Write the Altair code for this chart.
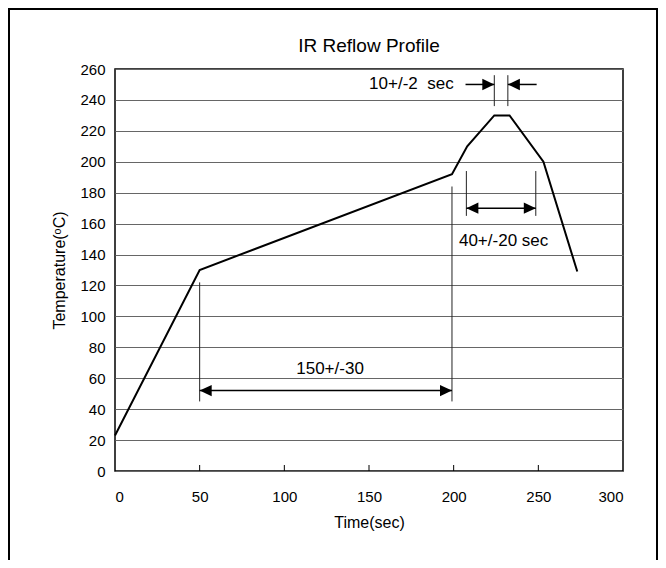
import altair as alt
import pandas as pd

# ---- data ----
time_s = [0, 50, 199, 208, 224, 233, 253, 273]
temp_c = [23, 130, 192, 210, 230, 230, 200, 129]

x_ticks = [0, 50, 100, 150, 200, 250, 300]
y_ticks = [0, 20, 40, 60, 80, 100, 120, 140, 160, 180, 200, 220, 240, 260]
inner_x_ticks = [50, 100, 150, 200, 250]

# dimension (extension) lines
dim_x = [50, 199, 207.5, 248.5, 224, 232]
dim_y1 = [45, 45, 165, 165, 236, 236]
dim_y2 = [122, 184, 194, 194, 256, 256]

# arrow shafts
shaft_x1 = [50, 207.5, 207, 232]
shaft_x2 = [199, 248.5, 224, 249]
shaft_y = [52, 170, 250, 250]

# arrow heads
head_x = [50, 199, 207.5, 248.5, 224, 232]
head_y = [52, 52, 170, 170, 250, 250]
head_dir = ["left", "right", "left", "right", "right", "left"]

# annotation labels
label_text = ["150+/-30", "40+/-20 sec", "10+/-2\u00a0 sec"]
label_x = [127, 229.5, 200]
label_y = [66, 149, 250]
label_align = ["center", "center", "right"]

TITLE = "IR Reflow Profile"
X_TITLE = "Time(sec)"
Y_TITLE = "Temperature(\u1d52C)"

W, H = 508, 402
FONT = "Liberation Sans"

xs = alt.Scale(domain=[0, 300], nice=False, zero=False)
ys = alt.Scale(domain=[0, 260], nice=False, zero=False)

X_AX = alt.Axis(values=x_ticks, grid=False, ticks=False, domain=False,
                labelPadding=18, titlePadding=10, format="d")
Y_AX = alt.Axis(values=y_ticks, grid=True, ticks=False, domain=False,
                labelPadding=10, titlePadding=12, format="d")


def X(field):
    return alt.X(field, scale=xs, axis=X_AX, title=X_TITLE)


def Y(field):
    return alt.Y(field, scale=ys, axis=Y_AX, title=Y_TITLE)


profile_df = pd.DataFrame({"t": time_s, "T": temp_c})
dim_df = pd.DataFrame({"x": dim_x, "y1": dim_y1, "y2": dim_y2})
shaft_df = pd.DataFrame({"x1": shaft_x1, "x2": shaft_x2, "y": shaft_y})
head_df = pd.DataFrame({"x": head_x, "y": head_y, "d": head_dir})
label_df = pd.DataFrame({"x": label_x, "y": label_y, "txt": label_text, "al": label_align})
tick_df = pd.DataFrame({"t": inner_x_ticks})

one_row = alt.Data(values=[{"a": 1}])

frame = alt.Chart(one_row).mark_rect(
    filled=False, stroke="black", strokeWidth=2, clip=False
).encode(
    x=alt.value(-106), x2=alt.value(W + 34),
    y=alt.value(-60), y2=alt.value(H + 200)
)

title = alt.Chart(one_row).mark_text(
    font=FONT, fontSize=19, align="center", baseline="alphabetic", color="black"
).encode(
    x=alt.value(W / 2), y=alt.value(-17), text=alt.value(TITLE)
)

line = alt.Chart(profile_df).mark_line(color="black", strokeWidth=2).encode(
    x=X("t:Q"), y=Y("T:Q"),
)

inner_ticks = alt.Chart(tick_df).mark_rule(color="black", strokeWidth=1).encode(
    x=X("t:Q"),
    y=alt.value(H), y2=alt.value(H - 6)
)

dims = alt.Chart(dim_df).mark_rule(color="#222222", strokeWidth=1).encode(
    x=X("x:Q"), y=Y("y1:Q"), y2="y2:Q"
)

shafts = alt.Chart(shaft_df).mark_rule(color="black", strokeWidth=1.5).encode(
    x=X("x1:Q"), x2="x2:Q", y=Y("y:Q")
)

RIGHT_PATH = "M0,0L-2,-0.95L-2,0.95Z"
LEFT_PATH = "M0,0L2,-0.95L2,0.95Z"
heads = alt.Chart(head_df).mark_point(
    filled=True, color="black", opacity=1, size=144, strokeWidth=0
).encode(
    x=X("x:Q"), y=Y("y:Q"),
    shape=alt.Shape("d:N", scale=alt.Scale(domain=["left", "right"], range=[LEFT_PATH, RIGHT_PATH]), legend=None)
)

txt_center = alt.Chart(label_df).transform_filter(alt.datum.al == "center").mark_text(
    font=FONT, fontSize=17, align="center", baseline="middle", color="black"
).encode(
    x=X("x:Q"), y=Y("y:Q"), text="txt:N"
)
txt_right = alt.Chart(label_df).transform_filter(alt.datum.al == "right").mark_text(
    font=FONT, fontSize=17, align="right", baseline="middle", color="black"
).encode(
    x=X("x:Q"), y=Y("y:Q"), text="txt:N"
)

chart = alt.layer(
    frame, title, line, inner_ticks, dims, shafts, heads, txt_center, txt_right
).properties(
    width=W, height=H,
    padding={"left": 107, "top": 61, "right": 35, "bottom": 89},
    autosize=alt.AutoSizeParams(type="none"),
    background="white",
).configure_view(
    stroke="black", strokeWidth=1.5
).configure_axis(
    labelFont=FONT, titleFont=FONT, labelFontSize=15, titleFontSize=16,
    labelColor="black", titleColor="black", titleFontWeight="normal",
    gridColor="#666666", gridWidth=1, gridOpacity=1
)

chart.save("out.html", embed_options={"renderer": "svg", "actions": False})
